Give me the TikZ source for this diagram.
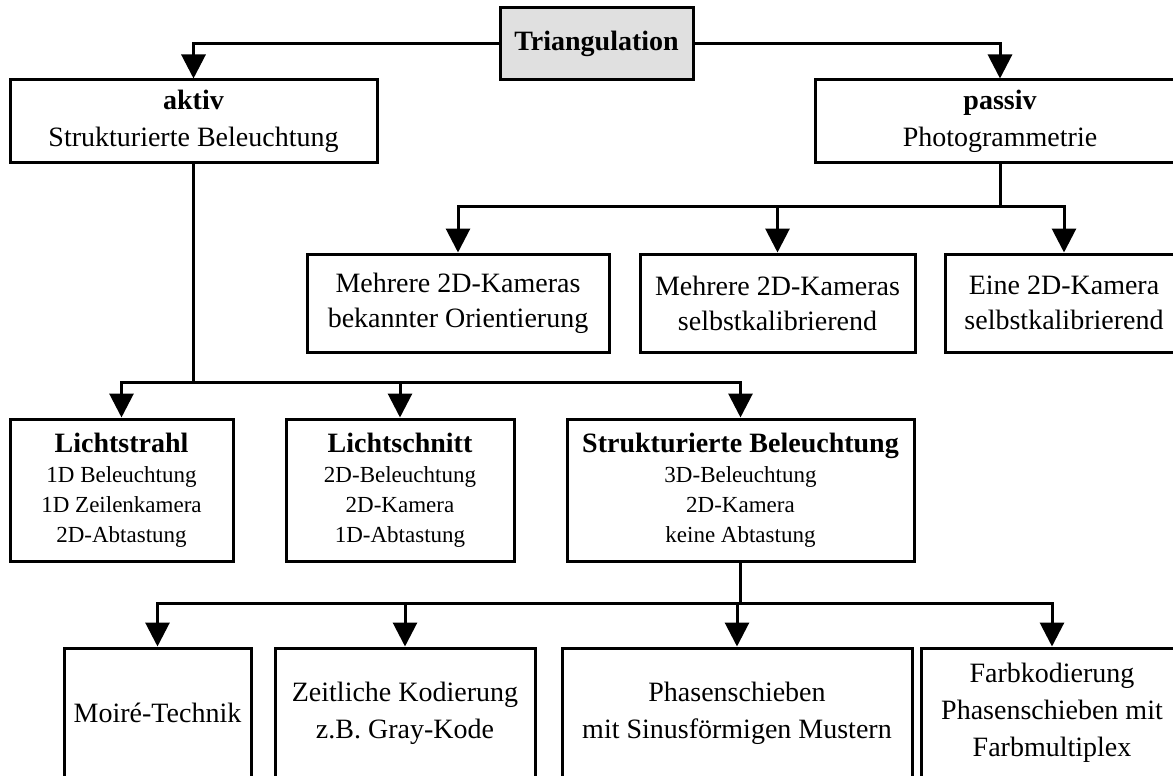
\documentclass[tikz,border=0pt]{standalone}
\usepackage{fontspec}
\setmainfont{Liberation Serif}
\usetikzlibrary{arrows.meta, positioning}
\definecolor{trigray}{RGB}{224,224,224}
\tikzstyle{rootnode} = [rectangle, draw=black, line width=3pt, fill=trigray, minimum width=193pt, minimum height=72pt, inner sep=2pt, font=\fontsize{28}{36}\selectfont\bfseries]
\tikzstyle{method} = [rectangle, draw=black, line width=3pt, minimum height=82pt, inner sep=2pt, align=center, font=\fontsize{28}{37}\selectfont]
\tikzstyle{camera} = [rectangle, draw=black, line width=3pt, minimum height=98pt, inner sep=2pt, align=center, font=\fontsize{28}{35}\selectfont]
\tikzstyle{scanner} = [rectangle, draw=black, line width=3pt, minimum height=142pt, inner sep=2pt, align=center, font=\fontsize{23}{30}\selectfont]
\tikzstyle{coding} = [rectangle, draw=black, line width=3pt, minimum height=130pt, inner sep=2pt, align=center, font=\fontsize{28}{37}\selectfont]
\tikzstyle{flow} = [line width=3pt]
\tikzstyle{flowarrow} = [line width=3pt, -{Triangle[length=24pt, width=24pt]}]

\begin{document}
\begin{tikzpicture}[x=1pt, y=1pt, node distance=77pt]
\useasboundingbox (0,0) rectangle (1173,-776);
\node (tri) [rootnode] at (596.5,-44) {Triangulation};
\node (aktiv) [method, minimum width=367pt, below of=tri, xshift=-403pt] {\textbf{aktiv}\\Strukturierte Beleuchtung};
\node (passiv) [method, minimum width=370pt, below of=tri, xshift=403.5pt] {\textbf{passiv}\\Photogrammetrie};
\node (cam1) [camera, minimum width=302pt, below of=passiv, xshift=-542pt, yshift=-105pt] {Mehrere 2D-Kameras\\bekannter Orientierung};
\node (cam2) [camera, minimum width=275pt, below of=passiv, xshift=-222.5pt, yshift=-105pt] {Mehrere 2D-Kameras\\selbstkalibrierend};
\node (cam3) [camera, minimum width=238pt, below of=passiv, xshift=64pt, yshift=-105pt] {Eine 2D-Kamera\\selbstkalibrierend};
\node (scan1) [scanner, minimum width=223pt, below of=aktiv, xshift=-72pt, yshift=-292pt] {{\fontsize{28}{30}\selectfont\bfseries Lichtstrahl}\\1D Beleuchtung\\1D Zeilenkamera\\2D-Abtastung};
\node (scan2) [scanner, minimum width=228pt, below of=aktiv, xshift=206.5pt, yshift=-292pt] {{\fontsize{28}{30}\selectfont\bfseries Lichtschnitt}\\2D-Beleuchtung\\2D-Kamera\\1D-Abtastung};
\node (scan3) [scanner, minimum width=347pt, below of=aktiv, xshift=547pt, yshift=-292pt] {{\fontsize{28}{30}\selectfont\bfseries Strukturierte Beleuchtung}\\3D-Beleuchtung\\2D-Kamera\\keine Abtastung};
\node (code1) [coding, minimum width=187pt, below of=scan3, xshift=-583pt, yshift=-146pt] {Moiré-Technik};
\node (code2) [coding, minimum width=260pt, below of=scan3, xshift=-335.5pt, yshift=-146pt] {Zeitliche Kodierung\\z.B. Gray-Kode};
\node (code3) [coding, minimum width=350pt, below of=scan3, xshift=-3.5pt, yshift=-146pt] {Phasenschieben\\mit Sinusförmigen Mustern};
\node (code4) [coding, minimum width=262pt, below of=scan3, xshift=311.5pt, yshift=-146pt] {Farbkodierung\\Phasenschieben mit\\Farbmultiplex};
\draw [flowarrow] (tri.west) -| (aktiv.north);
\draw [flowarrow] (tri.east) -| (passiv.north);
\draw [flow] (passiv.south) -- ++(0,-43) coordinate (passiv-j);
\draw [flowarrow] (passiv-j) -| (cam1.north);
\draw [flowarrow] (passiv-j) -| (cam2.north);
\draw [flowarrow] (passiv-j) -| (cam3.north);
\draw [flow] (aktiv.south) -- ++(0,-219) coordinate (aktiv-j);
\draw [flowarrow] (aktiv-j) -| (scan1.north);
\draw [flowarrow] (aktiv-j) -| (scan2.north);
\draw [flowarrow] (aktiv-j) -| (scan3.north);
\draw [flow] (scan3.south) -- ++(0,-41) coordinate (scan3-j);
\draw [flowarrow] (scan3-j) -| (code1.north);
\draw [flowarrow] (scan3-j) -| (code2.north);
\draw [flowarrow] (scan3-j) -| (code3.north);
\draw [flowarrow] (scan3-j) -| (code4.north);
\end{tikzpicture}
\end{document}
